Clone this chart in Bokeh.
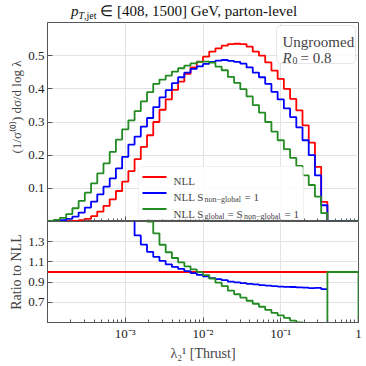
import numpy as np
from bokeh.plotting import figure
from bokeh.models import Range1d, FixedTicker, CustomJSTickFormatter, Label, BoxAnnotation, Title, Div
from bokeh.layouts import column
from bokeh.embed import file_html
from bokeh.resources import INLINE

FONT = "Liberation Serif"

# ---------------- data ----------------
bin_lo_exp, bin_hi_exp, n_bins = -4, 0, 50
edges = np.logspace(bin_lo_exp, bin_hi_exp, n_bins + 1)

nll = [0.0001, 0.0002, 0.0004, 0.001, 0.002, 0.004, 0.008, 0.016, 0.030, 0.047,
       0.067, 0.092, 0.120, 0.152, 0.188, 0.225, 0.260, 0.300, 0.337, 0.368,
       0.397, 0.422, 0.445, 0.465, 0.482, 0.497, 0.512, 0.522, 0.530, 0.535,
       0.536, 0.535, 0.527, 0.512, 0.500, 0.480, 0.455, 0.430, 0.400, 0.370,
       0.335, 0.290, 0.238, 0.165, 0.059, 0.0, 0.0, 0.0, 0.0, 0.0]

nll_sng1 = [0.0003, 0.001, 0.004, 0.008, 0.015, 0.027, 0.042, 0.060, 0.082, 0.105,
            0.130, 0.160, 0.195, 0.232, 0.256, 0.286, 0.312, 0.345, 0.374, 0.396,
            0.417, 0.435, 0.449, 0.460, 0.468, 0.475, 0.481, 0.485, 0.487, 0.484,
            0.481, 0.476, 0.465, 0.449, 0.435, 0.415, 0.391, 0.368, 0.341, 0.315,
            0.284, 0.245, 0.200, 0.139, 0.049, 0.0, 0.0, 0.0, 0.0, 0.0]

nll_sg1_sng1 = [0.002, 0.005, 0.011, 0.022, 0.040, 0.062, 0.087, 0.115, 0.145, 0.175,
                0.210, 0.247, 0.278, 0.305, 0.333, 0.362, 0.390, 0.415, 0.428, 0.440,
                0.452, 0.462, 0.470, 0.477, 0.481, 0.482, 0.479, 0.467, 0.456, 0.436,
                0.418, 0.399, 0.377, 0.351, 0.328, 0.300, 0.271, 0.245, 0.218, 0.192,
                0.168, 0.139, 0.110, 0.075, 0.025, 0.0, 0.0, 0.0, 0.0, 0.0]

x_major_ticks = [1e-3, 1e-2, 1e-1, 1.0]
top_y_ticks = [0.1, 0.2, 0.3, 0.4, 0.5]
ratio_y_ticks = [0.7, 0.9, 1.1, 1.3]

RED, BLUE, GREEN = "#ff0000", "#0000ff", "#228b22"
LW = 1.8

x_minor_ticks = [m * 10.0 ** e for e in range(-4, 0) for m in range(2, 10)]


def stairs(edg, vals, close_start=False, close_end=False):
    xs, ys = [], []
    if close_start:
        xs.append(edg[0]); ys.append(0.0)
    for i, v in enumerate(vals):
        xs += [edg[i], edg[i + 1]]
        ys += [v, v]
    if close_end:
        xs.append(edg[-1]); ys.append(0.0)
    return xs, ys


r = np.array(nll, dtype=float)
b = np.array(nll_sng1, dtype=float)
g = np.array(nll_sg1_sng1, dtype=float)
ratio_r = np.divide(r, r, out=np.full_like(r, np.nan), where=r > 0)
ratio_b = np.divide(b, r, out=np.full_like(r, np.nan), where=r > 0)
ratio_g = np.divide(g, r, out=np.ones_like(r), where=r > 0)
ratio_r, ratio_b, ratio_g = [np.clip(a, 0.3, 1.7) for a in (ratio_r, ratio_b, ratio_g)]

# frame geometry in page pixels (page origin = canvas origin)
FL, FR, FT, FB = 47, 358, 22, 221


def lxr(px):
    return 10 ** (-4 + 4.0 * (px - FL) / (FR - FL))


def tyr(py):
    return 0.6 * (FB - py) / (FB - FT)


def style_axes(p):
    p.outline_line_color = "#555555"
    p.outline_line_width = 1
    for ax in p.xaxis + p.yaxis:
        ax.axis_line_color = "#555555"
        ax.major_tick_line_color = "#555555"
        ax.minor_tick_line_color = "#555555"
        ax.major_tick_in = 5
        ax.major_tick_out = 0
        ax.major_label_text_font = FONT
        ax.major_label_text_font_size = "13px"
        ax.major_label_text_color = "#222222"
        ax.axis_label_text_font = FONT
        ax.axis_label_text_font_style = "normal"
        ax.axis_label_text_font_size = "14px"
    for ax in p.xaxis:
        ax.minor_tick_in = 3
        ax.minor_tick_out = 0
        ax.ticker = FixedTicker(ticks=x_major_ticks, minor_ticks=x_minor_ticks)
    for ax in p.yaxis:
        ax.minor_tick_in = 0
        ax.minor_tick_out = 0
        ax.major_label_standoff = 3
    p.xgrid.grid_line_color = "#e3e3e3"
    p.ygrid.grid_line_color = "#e3e3e3"
    p.xgrid.ticker = FixedTicker(ticks=x_major_ticks)
    p.background_fill_color = "white"
    p.border_fill_color = "white"


# ---------------- header (title) ----------------
title_html = ('<i>p</i><sub style="font-size:10px;vertical-align:-3px"><i>T</i>,jet</sub>'
              ' \u2208 [408, 1500] GeV, parton-level')
hdr = Div(text=title_html, width=366, height=FT, margin=(0, 0, 0, 0),
          styles={"font-family": FONT, "font-size": "15px", "line-height": "22px",
                  "padding-left": "71px", "white-space": "nowrap", "color": "#111111",
                  "box-sizing": "border-box", "overflow": "hidden"})

# ---------------- top panel ----------------
p1 = figure(width=366, height=FB - FT, x_axis_type="log",
            x_range=Range1d(1e-4, 1.0), y_range=Range1d(0, 0.6),
            output_backend="svg", toolbar_location=None,
            min_border_left=FL, min_border_right=366 - FR, min_border_top=0, min_border_bottom=0)
style_axes(p1)
p1.yaxis.ticker = FixedTicker(ticks=top_y_ticks)
p1.ygrid.ticker = FixedTicker(ticks=top_y_ticks)
p1.xaxis.formatter = CustomJSTickFormatter(code="return '';")
p1.xaxis.major_label_text_font_size = "0px"
p1.xaxis.major_label_standoff = 0
p1.add_layout(Title(text="(1/\u03c3\u207d\u2070\u207e) d\u03c3/d log \u03bb", align="right", offset=38,
                    vertical_align="middle", text_font=FONT, text_font_size="13px",
                    text_font_style="normal", standoff=2), "left")

for vals, col in ((nll, RED), (nll_sng1, BLUE), (nll_sg1_sng1, GREEN)):
    xs, ys = stairs(edges, vals, close_start=True, close_end=True)
    p1.line(xs, ys, line_color=col, line_width=LW)

# Ungroomed box
p1.add_layout(BoxAnnotation(left=lxr(276), right=lxr(355), top=tyr(25), bottom=tyr(63),
                            fill_color="white", fill_alpha=0.85, line_color="#b0b0b0",
                            line_width=1, border_radius=4))
p1.add_layout(Label(x=lxr(282), y=tyr(41), text="Ungroomed", text_font=FONT,
                    text_font_size="15px", text_baseline="alphabetic"))
p1.add_layout(Label(x=lxr(282), y=tyr(57), text="R", text_font=FONT, text_font_style="italic",
                    text_font_size="15px", text_baseline="alphabetic"))
p1.add_layout(Label(x=lxr(292), y=tyr(60), text="0", text_font=FONT,
                    text_font_size="10px", text_baseline="alphabetic"))
p1.add_layout(Label(x=lxr(300), y=tyr(57), text="= 0.8", text_font=FONT,
                    text_font_size="15px", text_baseline="alphabetic"))

# legend frame
p1.add_layout(BoxAnnotation(left=lxr(138), right=lxr(303), top=tyr(166), bottom=tyr(219),
                            fill_color="white", fill_alpha=0.85, line_color="#d0d0d0",
                            line_width=1, border_radius=3))
# legend line samples (drawn above the legend frame)
rows = [(176.5, RED), (192.5, BLUE), (208.5, GREEN)]
for ypx, col in rows:
    p1.add_layout(BoxAnnotation(left=lxr(142), right=lxr(166), top=tyr(ypx - 0.9),
                                bottom=tyr(ypx + 0.9), fill_color=col, fill_alpha=1.0,
                                line_color=None))

MAIN, SUB = "11px", "8px"


def ltext(px, py, txt, size=MAIN):
    p1.add_layout(Label(x=lxr(px), y=tyr(py), text=txt, text_font=FONT,
                        text_font_size=size, text_baseline="alphabetic"))


ltext(173, 180.5, "NLL")
ltext(173, 196.5, "NLL S")
ltext(204, 199, "non\u2212global", SUB)
ltext(244, 196.5, "= 1")
ltext(173, 213, "NLL S")
ltext(204, 215.5, "global", SUB)
ltext(227, 213, "= S")
ltext(243.5, 215.5, "non\u2212global", SUB)
ltext(284, 213, "= 1")

# ---------------- ratio panel ----------------
p2 = figure(width=366, height=366 - FB, x_axis_type="log",
            x_range=p1.x_range, y_range=Range1d(0.5, 1.5),
            output_backend="svg", toolbar_location=None,
            min_border_left=FL, min_border_right=366 - FR, min_border_top=0, min_border_bottom=366 - 322)
style_axes(p2)
p2.yaxis.ticker = FixedTicker(ticks=ratio_y_ticks)
p2.ygrid.ticker = FixedTicker(ticks=ratio_y_ticks)
p2.xaxis.formatter = CustomJSTickFormatter(code="""
const e = Math.round(Math.log10(tick));
if (e === 0) { return "1"; }
const sup = {"-": "\u207b", "0": "\u2070", "1": "\u00b9", "2": "\u00b2", "3": "\u00b3", "4": "\u2074"};
return "10" + String(e).split("").map(c => sup[c]).join("");
""")
p2.xaxis.major_label_standoff = 3
p2.xaxis.axis_label = "\u03bb\u2082\u00b9 [Thrust]"
p2.xaxis.axis_label_standoff = 2
p2.add_layout(Title(text="Ratio to NLL", align="center", vertical_align="middle",
                    text_font=FONT, text_font_size="14px", text_font_style="normal",
                    standoff=2), "left")

xs, ys = stairs(edges, ratio_r)
p2.line(xs, ys, line_color=RED, line_width=LW)
xs, ys = stairs(edges, ratio_b)
p2.line(xs, ys, line_color=BLUE, line_width=LW)
xs, ys = stairs(edges, ratio_g, close_end=True)
p2.line(xs, ys, line_color=GREEN, line_width=LW)

layout = column(hdr, p1, p2, spacing=0)
open("out.html", "w").write(file_html(layout, INLINE))
